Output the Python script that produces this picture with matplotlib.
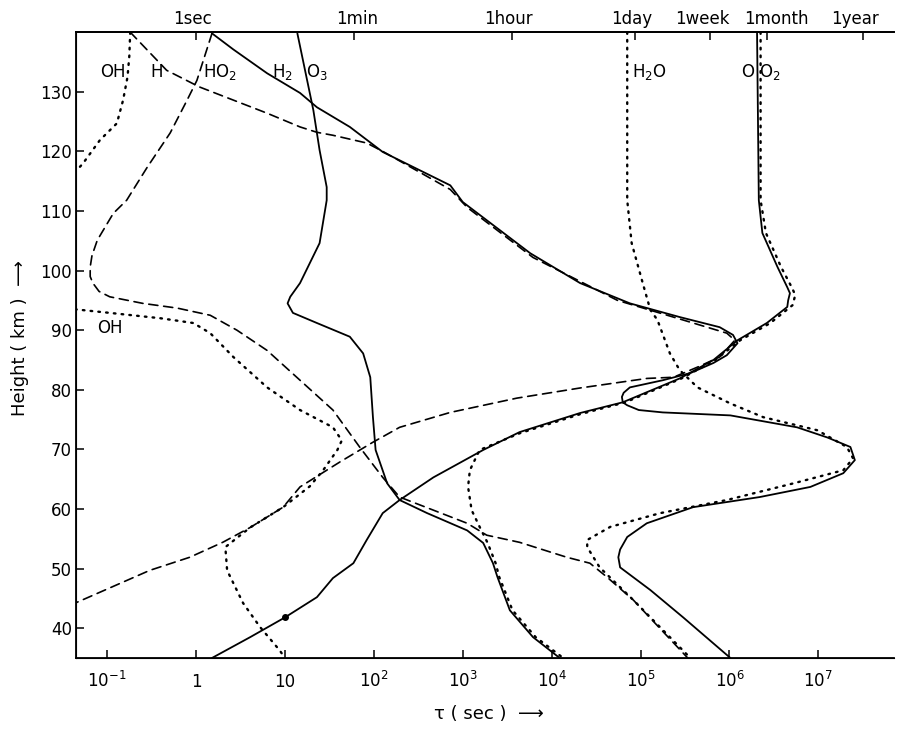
import numpy as np
import matplotlib
matplotlib.use("Agg")
import matplotlib.pyplot as plt
from matplotlib.ticker import NullLocator
from matplotlib.transforms import ScaledTranslation

plt.rcParams['font.family'] = ['DejaVu Sans']
plt.rcParams['mathtext.fontset'] = 'dejavusans'

# lifetimes: height (km) and log10 of tau (sec)
oh_hi_h = [140, 136, 132.5, 128.6, 124.7, 121.9, 118.0, 116.5]
oh_hi_lg = [-0.74, -0.75, -0.77, -0.82, -0.89, -1.08, -1.27, -1.36]

oh_lo_h = [93.5, 92.9, 92.0, 91.2, 89.5, 85.5, 80.4, 76.6, 73.7, 71.5, 69.9, 66.5,
           63.8, 60.3, 56.9, 53.6, 49.7, 44.2, 40.2, 36.3, 35.0]
oh_lo_lg = [-1.36, -0.97, -0.40, -0.03, 0.16, 0.42, 0.80, 1.17, 1.54, 1.64, 1.59, 1.43,
            1.28, 0.98, 0.61, 0.33, 0.35, 0.53, 0.72, 0.94, 1.00]

h_h = [140, 133.6, 130.8, 128.6, 126.4, 124.1, 123.2, 122.7, 121.4, 120.0, 113.6, 110.6,
       102.2, 95.0, 91.7, 89.5, 88.3, 85.5, 83.8, 82.1, 81.9, 80.3, 78.6, 76.2, 73.7,
       71.2, 67.9, 63.7, 60.3, 56.9, 54.4, 51.9, 49.7, 44.2]
h_lg = [-0.74, -0.33, 0.04, 0.42, 0.80, 1.17, 1.36, 1.54, 1.92, 2.10, 2.86, 3.05,
        3.79, 4.74, 5.48, 5.97, 6.06, 5.89, 5.64, 5.37, 5.07, 4.32, 3.61, 2.86, 2.29,
        1.99, 1.62, 1.17, 0.98, 0.61, 0.30, -0.07, -0.52, -1.36]

ho2_h = [139.8, 131.9, 128.6, 123.1, 117.3, 111.8, 109.6, 105.1, 102.5, 100.6, 99.0,
         97.9, 96.5, 95.6, 94.5, 93.7, 92.5, 90.0, 86.6, 81.6, 76.6, 70.4, 65.3, 62.0,
         59.8, 57.6, 55.6, 54.4, 51.9, 50.9, 48.6, 44.7, 35.8, 35.0]
ho2_lg = [0.18, 0.01, -0.10, -0.29, -0.55, -0.78, -0.93, -1.11, -1.17, -1.19, -1.19,
          -1.16, -1.09, -0.97, -0.60, -0.21, 0.16, 0.46, 0.80, 1.17, 1.54, 1.84, 2.10, 2.29,
          2.67, 3.05, 3.27, 3.64, 4.17, 4.43, 4.62, 4.92, 5.48, 5.53]

h2_h = [139.8, 137.1, 133.1, 129.8, 127.4, 124.1, 119.9, 114.3, 111.5, 102.9, 97.9,
        94.5, 92.2, 90.5, 89.2, 87.8, 85.8, 84.5, 82.8, 81.6, 80.4, 79.5, 78.8, 77.9,
        77.4, 76.6, 76.2, 75.7, 73.7, 72.0, 70.4, 68.2, 66.0, 63.7, 62.0, 60.3, 57.6,
        55.3, 53.2, 51.9, 50.2, 46.4, 41.8, 35.0]
h2_lg = [0.18, 0.42, 0.80, 1.17, 1.36, 1.73, 2.10, 2.86, 3.00, 3.76, 4.32,
         4.88, 5.44, 5.89, 6.04, 6.09, 5.97, 5.82, 5.56, 5.25, 4.88, 4.81, 4.79, 4.80,
         4.85, 4.98, 5.25, 6.01, 6.76, 7.10, 7.36, 7.41, 7.28, 6.91, 6.34, 5.59, 5.07,
         4.85, 4.77, 4.75, 4.77, 5.11, 5.48, 6.01]

o3_h = [139.8, 126.9, 120.2, 114.0, 111.8, 104.6, 97.9, 95.6, 94.5, 92.9, 91.2, 88.9,
        86.1, 82.1, 75.4, 69.9, 64.3, 61.5, 59.3, 56.4, 54.3, 50.9, 48.6, 43.0, 38.5, 35.0]
o3_lg = [1.14, 1.32, 1.39, 1.47, 1.47, 1.39, 1.17, 1.06, 1.03, 1.09, 1.36, 1.73,
         1.88, 1.96, 1.99, 2.02, 2.15, 2.29, 2.60, 3.05, 3.23, 3.34, 3.39, 3.53, 3.79, 4.09]

h2o_h = [140, 111.8, 104.6, 97.6, 93.4, 91.7, 86.1, 83.3, 80.4, 77.7, 75.4, 73.2, 70.4,
         68.5, 66.5, 64.3, 61.5, 59.3, 57.0, 54.8, 53.6, 50.2, 44.7, 35.0]
h2o_lg = [4.85, 4.85, 4.90, 5.03, 5.11, 5.19, 5.33, 5.44, 5.64, 6.01, 6.38, 6.99, 7.32,
          7.39, 7.28, 6.72, 5.97, 5.22, 4.66, 4.40, 4.40, 4.54, 4.92, 5.56]

o_h = [140, 111.8, 106.3, 100.6, 97.2, 96.2, 95.0, 93.9, 91.2, 88.3, 85.0, 81.9, 77.9,
       76.1, 72.9, 69.9, 65.3, 61.5, 59.3, 54.8, 50.9, 48.4, 45.2, 41.8, 38.5, 35.0]
o_lg = [6.31, 6.33, 6.37, 6.54, 6.65, 6.68, 6.66, 6.65, 6.42, 6.09, 5.82, 5.44, 4.80,
        4.32, 3.64, 3.23, 2.67, 2.29, 2.10, 1.92, 1.77, 1.54, 1.36, 1.00, 0.61, 0.18]

o2_h = [140, 111.8, 106.3, 100.6, 97.2, 95.9, 94.2, 91.2, 88.3, 85.0, 81.9, 77.9, 75.9,
        72.7, 69.9, 66.5, 63.7, 59.8, 57.0, 54.3, 50.9, 48.6, 43.0, 38.5, 35.0]
o2_lg = [6.35, 6.35, 6.41, 6.58, 6.70, 6.74, 6.71, 6.46, 6.12, 5.84, 5.46, 4.83, 4.32,
         3.64, 3.19, 3.08, 3.06, 3.10, 3.19, 3.28, 3.37, 3.41, 3.56, 3.82, 4.13]

marker_h, marker_lg = 41.8, 1.00

bottom_exp = [-1, 0, 1, 2, 3, 4, 5, 6, 7]
bottom_labels = ['$10^{-1}$', '1', '10', '$10^{2}$', '$10^{3}$', '$10^{4}$',
                 '$10^{5}$', '$10^{6}$', '$10^{7}$']
top_secs = [1, 60, 3600, 86400, 604800, 2.63e6, 3.156e7]
top_labels = ['1sec', '1min', '1hour', '1day', '1week', '1month', '1year']
top_shift = [-3, 3, -4, -3, -8, 10, -8]   # label nudges, pixels

# species labels: text, log10 tau, height, alignment
names = [('OH', -0.94, 133.3, 'center'), ('H', -0.44, 133.3, 'center'),
         ('HO$_2$', 0.08, 133.3, 'left'), ('H$_2$', 0.97, 133.3, 'center'),
         ('O$_3$', 1.36, 133.3, 'center'), ('H$_2$O', 4.90, 133.3, 'left'),
         ('O', 6.20, 133.3, 'center'), ('O$_2$', 6.33, 133.3, 'left'),
         ('OH', -0.97, 90.3, 'center')]

dotted = (0, (0.7, 2.6))
dashed = (0, (5.5, 3.5))

fig = plt.figure(figsize=(8.99, 7.31), dpi=100)
ax = fig.add_axes([0.0845, 0.0999, 0.9099, 0.8561])

def curve(lg, h, ls, lw):
    ax.plot(10 ** np.array(lg), h, color='black', linestyle=ls, linewidth=lw,
            solid_capstyle='round', solid_joinstyle='round', dash_capstyle='round')

curve(oh_hi_lg, oh_hi_h, dotted, 1.7)
curve(oh_lo_lg, oh_lo_h, dotted, 1.7)
curve(h2o_lg, h2o_h, dotted, 1.7)
curve(o2_lg, o2_h, dotted, 1.7)
curve(h_lg, h_h, dashed, 1.2)
curve(ho2_lg, ho2_h, dashed, 1.2)
curve(h2_lg, h2_h, '-', 1.3)
curve(o3_lg, o3_h, '-', 1.3)
curve(o_lg, o_h, '-', 1.3)
ax.plot(10 ** marker_lg, marker_h, 'o', color='black', ms=4)

for txt, lg, hh, ha in names:
    ax.text(10 ** lg, hh, txt, ha=ha, va='center', fontsize=12)

ax.set_xscale('log')
ax.set_xlim(10 ** -1.35, 10 ** 7.85)
ax.set_ylim(35, 140)
ax.set_xticks([10.0 ** e for e in bottom_exp])
ax.set_xticklabels(bottom_labels)
ax.xaxis.set_minor_locator(NullLocator())
ax.set_yticks(range(40, 131, 10))
ax.tick_params(axis='x', direction='in', length=6, width=1.1, labelsize=12, pad=21)
ax.tick_params(axis='y', direction='in', length=6, width=1.1, labelsize=12, pad=3)
for lbl in ax.get_xticklabels():
    lbl.set_verticalalignment('baseline')
ax.spines['right'].set_visible(False)
for s in ('left', 'bottom', 'top'):
    ax.spines[s].set_linewidth(1.3)

top = ax.twiny()
top.set_xscale('log')
top.set_xlim(ax.get_xlim())
top.set_xticks(top_secs)
top.set_xticklabels(top_labels)
top.xaxis.set_minor_locator(NullLocator())
top.tick_params(axis='x', direction='in', length=6, width=1.1, labelsize=12, pad=6)
for lbl, dx in zip(top.get_xticklabels(), top_shift):
    lbl.set_verticalalignment('baseline')
    lbl.set_transform(lbl.get_transform() + ScaledTranslation(dx / 100, 0, fig.dpi_scale_trans))
top.spines['right'].set_visible(False)
top.spines['top'].set_linewidth(1.3)

fig.text(20 / 899, 1 - 338 / 731, 'Height ( km )  \u27f6', rotation=90,
         ha='center', va='center', fontsize=13)
fig.text(489 / 899, 1 - 714 / 731, '\u03c4 ( sec )  \u27f6', ha='center',
         va='center', fontsize=13)

fig.savefig('out.png', dpi=100)
